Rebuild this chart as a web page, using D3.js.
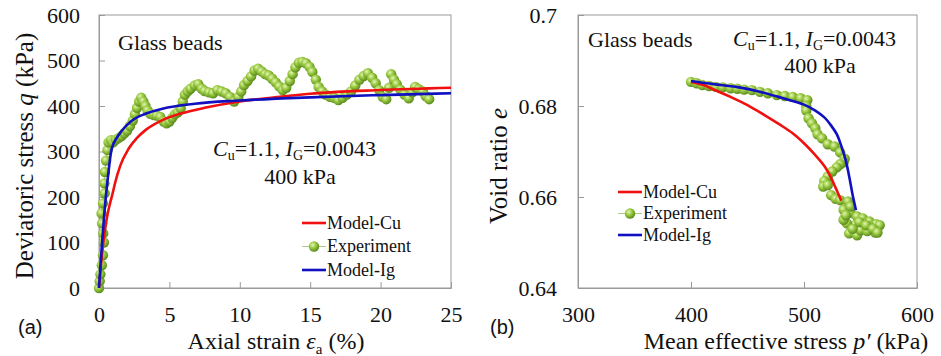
<!DOCTYPE html>
<html>
<head>
<meta charset="utf-8">
<script src="https://cdn.jsdelivr.net/npm/d3@7"></script>
<style>
  body { margin: 0; background: #fff; }
  svg text { font-family: "Liberation Serif", "Times New Roman", serif; fill: #111; }
</style>
</head>
<body>
<script>
// General constants
const WIDTH = 941;
const HEIGHT = 356;

// Panel (a): deviatoric stress q (kPa) vs axial strain (%)
const strainTicks = [0, 5, 10, 15, 20, 25];
const qTicks = [0, 100, 200, 300, 400, 500, 600];

const modelCuA = [[0,0],[0.15,55],[0.3,98],[0.45,133],[0.62,164],[0.8,188],[1.0,212],[1.15,232],[1.5,268],
  [2.1,306],[2.7,330],[3.3,347],[4.5,369],[5.9,384],[7.5,396],[10,410],[12.5,419],[15,427],[20,435],[25,440]];

const modelIgA = [[0,0],[0.1,48],[0.2,92],[0.38,164],[0.5,205],[0.62,240],[0.75,275],[0.85,298],[1.0,315],
  [1.2,327],[1.6,345],[2.3,367],[3.3,383],[4.5,394],[6.8,405],[10,412],[15,419],[20,424],[25,428]];

const experimentA = [[0.0,0],[0.05,15],[0.1,30],[0.2,50],[0.28,72],[0.35,100],[0.3,120],[0.22,142],[0.18,164],
  [0.28,186],[0.4,208],[0.38,230],[0.42,255],[0.5,280],[0.6,303],[0.68,320],[0.85,325],[1.0,320],[1.2,326],
  [1.4,330],[1.6,334],[1.8,340],[2.0,346],[2.2,356],[2.4,368],[2.55,382],[2.7,396],[2.85,410],[3.0,418],
  [3.15,410],[3.3,400],[3.45,390],[3.65,383],[3.9,380],[4.1,379],[4.35,376],[4.6,366],[4.8,362],[5.0,366],
  [5.2,374],[5.4,382],[5.6,386],[5.8,395],[5.95,410],[6.1,425],[6.3,432],[6.5,438],[6.8,445],[7.05,448],
  [7.3,438],[7.5,433],[7.8,430],[8.1,428],[8.4,435],[8.7,432],[9.0,428],[9.3,420],[9.6,410],[9.9,420],
  [10.1,432],[10.3,446],[10.55,455],[10.8,465],[11.05,478],[11.3,482],[11.55,476],[11.8,470],[12.05,467],
  [12.3,460],[12.55,452],[12.8,443],[13.05,435],[13.3,440],[13.55,455],[13.75,470],[13.95,485],[14.2,495],
  [14.45,497],[14.7,494],[14.95,486],[15.15,475],[15.4,458],[15.6,442],[15.85,432],[16.1,425],[16.4,420],
  [16.7,418],[17.0,413],[17.3,418],[17.6,425],[17.9,432],[18.2,445],[18.5,458],[18.8,466],[19.1,472],
  [19.4,462],[19.65,450],[19.9,435],[20.15,420],[20.4,415],[20.6,440],[20.75,470],[20.95,458],[21.15,448],
  [21.4,436],[21.7,425],[22.0,417],[22.25,430],[22.45,442],[22.7,437],[23.0,432],[23.2,422],[23.45,415]];

// Panel (b): void ratio e vs mean effective stress p' (kPa)
const pTicks = [300, 400, 500, 600];
const eTicks = [0.64, 0.66, 0.68, 0.7];

const modelCuB = [[400,0.6853],[411,0.6846],[422,0.6834],[435,0.6820],[450,0.6802],[465,0.6780],[478,0.6760],
  [490,0.6740],[500,0.6718],[510,0.6692],[518,0.6668],[524,0.6642],[528,0.6620],[533,0.6592]];

const modelIgB = [[400,0.6855],[420,0.6848],[440,0.6842],[460,0.6832],[480,0.6818],[500,0.6803],[510,0.6790],
  [518,0.6775],[524,0.6757],[529,0.6738],[533,0.6712],[537,0.6680],[540,0.6645],[543,0.6605],[546,0.6571]];

const experimentB = [[400,0.6853],[405,0.6850],[410,0.6846],[416,0.6844],[422,0.6842],[428,0.6841],[435,0.6839],
  [441,0.6838],[447,0.6836],[454,0.6835],[461,0.6831],[468,0.6828],[476,0.6824],[483,0.6822],[490,0.6820],
  [497,0.6817],[503,0.6813],[502,0.6800],[502,0.6790],[504,0.6773],[507,0.6762],[510,0.6751],[512,0.6738],
  [516,0.6729],[521,0.6716],[527,0.6711],[532,0.6698],[536,0.6684],[535,0.6676],[532,0.6672],[529,0.6665],
  [525,0.6656],[521,0.6645],[518,0.6635],[517,0.6623],[521,0.6626],[524,0.6604],[528,0.6596],[532,0.6593],
  [539,0.6590],[535,0.6572],[541,0.6566],[547,0.6557],[552,0.6553],[558,0.6546],[564,0.6540],[567,0.6538],
  [563,0.6522],[558,0.6535],[552,0.6542],[545,0.6538],[538,0.6542],[535,0.6550],[540,0.6520],[547,0.6516],
  [550,0.6527],[556,0.6525],[543,0.6530],[549,0.6545],[541,0.6579],[537,0.6560],[555,0.6538],[561,0.6530],
  [565,0.6522]];

const legendNames = ["Model-Cu", "Experiment", "Model-Ig"];
const RED = "#f01010";
const BLUE = "#1010c0";
const BALL_R = 5.2;

const svg = d3.select("body").append("svg")
  .attr("width", WIDTH)
  .attr("height", HEIGHT);

/** Shaded sphere for the experiment markers */
const grad = svg.append("defs").append("radialGradient")
  .attr("id", "ball").attr("cx", "38%").attr("cy", "35%").attr("r", "65%");
grad.append("stop").attr("offset", "0%").attr("stop-color", "#e6f5b8");
grad.append("stop").attr("offset", "45%").attr("stop-color", "#9ccc44");
grad.append("stop").attr("offset", "100%").attr("stop-color", "#5b8c1c");

/**
 * Draws one panel: frame, axes, experiment balls and two model lines
 */
function drawPanel(opt) {
  const x = d3.scaleLinear().domain(opt.xDomain).range(opt.xRange);
  const y = d3.scaleLinear().domain(opt.yDomain).range([288, 15]);
  const g = svg.append("g");

  g.append("rect")
    .attr("x", opt.xRange[0]).attr("y", 15)
    .attr("width", opt.xRange[1] - opt.xRange[0]).attr("height", 273)
    .attr("fill", "none").attr("stroke", "#9a9a9a");

  const xAxis = g.append("g").attr("transform", "translate(0,288)")
    .call(d3.axisBottom(x).tickValues(opt.xTicks).tickSize(-6).tickPadding(18).tickFormat(d => String(d)));
  const yAxis = g.append("g").attr("transform", `translate(${opt.xRange[0]},0)`)
    .call(d3.axisLeft(y).tickValues(opt.yTicks).tickSize(-6).tickPadding(opt.yPad).tickFormat(d => String(d)));
  [xAxis, yAxis].forEach(a => {
    a.select(".domain").attr("stroke", "#9a9a9a");
    a.selectAll(".tick line").attr("stroke", "#9a9a9a");
    a.selectAll(".tick text").attr("font-size", 22).attr("fill", "#111");
  });

  const line = d3.line().x(d => x(d[0])).y(d => y(d[1]));

  g.append("path").datum(opt.exp)
    .attr("d", line).attr("fill", "none").attr("stroke", "#a9c88a").attr("stroke-width", 1);
  g.selectAll("circle.exp").data(opt.exp).enter().append("circle")
    .attr("class", "exp")
    .attr("cx", d => x(d[0])).attr("cy", d => y(d[1])).attr("r", BALL_R)
    .attr("fill", "url(#ball)");

  const smooth = d3.line().x(d => x(d[0])).y(d => y(d[1])).curve(opt.curve);
  g.append("path").datum(opt.cu)
    .attr("d", smooth).attr("fill", "none").attr("stroke", RED).attr("stroke-width", 2.6);
  g.append("path").datum(opt.ig)
    .attr("d", smooth).attr("fill", "none").attr("stroke", BLUE).attr("stroke-width", 2.6);

  /** Legend */
  const colors = [RED, null, BLUE];
  legendNames.forEach((name, i) => {
    const ly = opt.legend.y + i * opt.legend.gap;
    const lx = opt.legend.x;
    if (colors[i]) {
      g.append("line").attr("x1", lx).attr("x2", lx + 24).attr("y1", ly).attr("y2", ly)
        .attr("stroke", colors[i]).attr("stroke-width", 2.6);
    } else {
      g.append("line").attr("x1", lx).attr("x2", lx + 24).attr("y1", ly).attr("y2", ly)
        .attr("stroke", "#a9c88a").attr("stroke-width", 1);
      g.append("circle").attr("cx", lx + 12).attr("cy", ly).attr("r", BALL_R).attr("fill", "url(#ball)");
    }
    g.append("text").attr("x", lx + 25).attr("y", ly).attr("dy", "0.33em")
      .attr("font-size", 18).text(name);
  });

  return g;
}

/** Text with C_u and I_G subscripts */
function paramText(g, px, py) {
  const t = g.append("text").attr("x", px).attr("y", py).attr("font-size", 22);
  t.append("tspan").attr("font-style", "italic").text("C");
  t.append("tspan").attr("font-size", 14).attr("dy", 4).text("u");
  t.append("tspan").attr("dy", -4).text("=1.1, ");
  t.append("tspan").attr("font-style", "italic").text("I");
  t.append("tspan").attr("font-size", 14).attr("dy", 4).text("G");
  t.append("tspan").attr("dy", -4).text("=0.0043");
}

/** Panel letter, in a sans face */
function panelLetter(g, px, label) {
  g.append("text").attr("x", px).attr("y", 334).attr("font-size", 20)
    .style("font-family", "'Liberation Sans', Arial, sans-serif").text(label);
}

// ---- Panel (a)
const ga = drawPanel({
  xDomain: [0, 25], xRange: [99, 451], xTicks: strainTicks,
  yDomain: [0, 600], yTicks: qTicks, yPad: 19,
  exp: experimentA, cu: modelCuA, ig: modelIgA, curve: d3.curveMonotoneX,
  legend: {x: 302, y: 223, gap: 23.5}
});
ga.append("text").attr("x", 118).attr("y", 50).attr("font-size", 22).text("Glass beads");
paramText(ga, 213, 156);
ga.append("text").attr("x", 300).attr("y", 184).attr("font-size", 22).attr("text-anchor", "middle").text("400 kPa");

const xla = ga.append("text").attr("x", 276).attr("y", 349).attr("font-size", 24).attr("text-anchor", "middle");
xla.append("tspan").text("Axial strain ");
xla.append("tspan").attr("font-style", "italic").text("ε");
xla.append("tspan").attr("font-size", 15).attr("dy", 5).text("a");
xla.append("tspan").attr("dy", -5).text(" (%)");

const yla = ga.append("text").attr("transform", "translate(33,156) rotate(-90)")
  .attr("font-size", 25).attr("text-anchor", "middle");
yla.append("tspan").text("Deviatoric stress ");
yla.append("tspan").attr("font-style", "italic").text("q");
yla.append("tspan").text(" (kPa)");

panelLetter(ga, 18, "(a)");

// ---- Panel (b)
const gb = drawPanel({
  xDomain: [300, 600], xRange: [578, 917], xTicks: pTicks,
  yDomain: [0.64, 0.7], yTicks: eTicks, yPad: 21,
  exp: experimentB, cu: modelCuB, ig: modelIgB, curve: d3.curveCatmullRom.alpha(0.5),
  legend: {x: 618, y: 192, gap: 21.5}
});
gb.append("text").attr("x", 588).attr("y", 47).attr("font-size", 22).text("Glass beads");
paramText(gb, 733, 46);
gb.append("text").attr("x", 820).attr("y", 73).attr("font-size", 22).attr("text-anchor", "middle").text("400 kPa");

const xlb = gb.append("text").attr("x", 786).attr("y", 349).attr("font-size", 24).attr("text-anchor", "middle");
xlb.append("tspan").text("Mean effective stress ");
xlb.append("tspan").attr("font-style", "italic").text("p′");
xlb.append("tspan").text(" (kPa)");

const ylb = gb.append("text").attr("transform", "translate(507,166) rotate(-90)")
  .attr("font-size", 25).attr("text-anchor", "middle");
ylb.append("tspan").text("Void ratio ");
ylb.append("tspan").attr("font-style", "italic").text("e");

panelLetter(gb, 490, "(b)");
</script>
</body>
</html>
